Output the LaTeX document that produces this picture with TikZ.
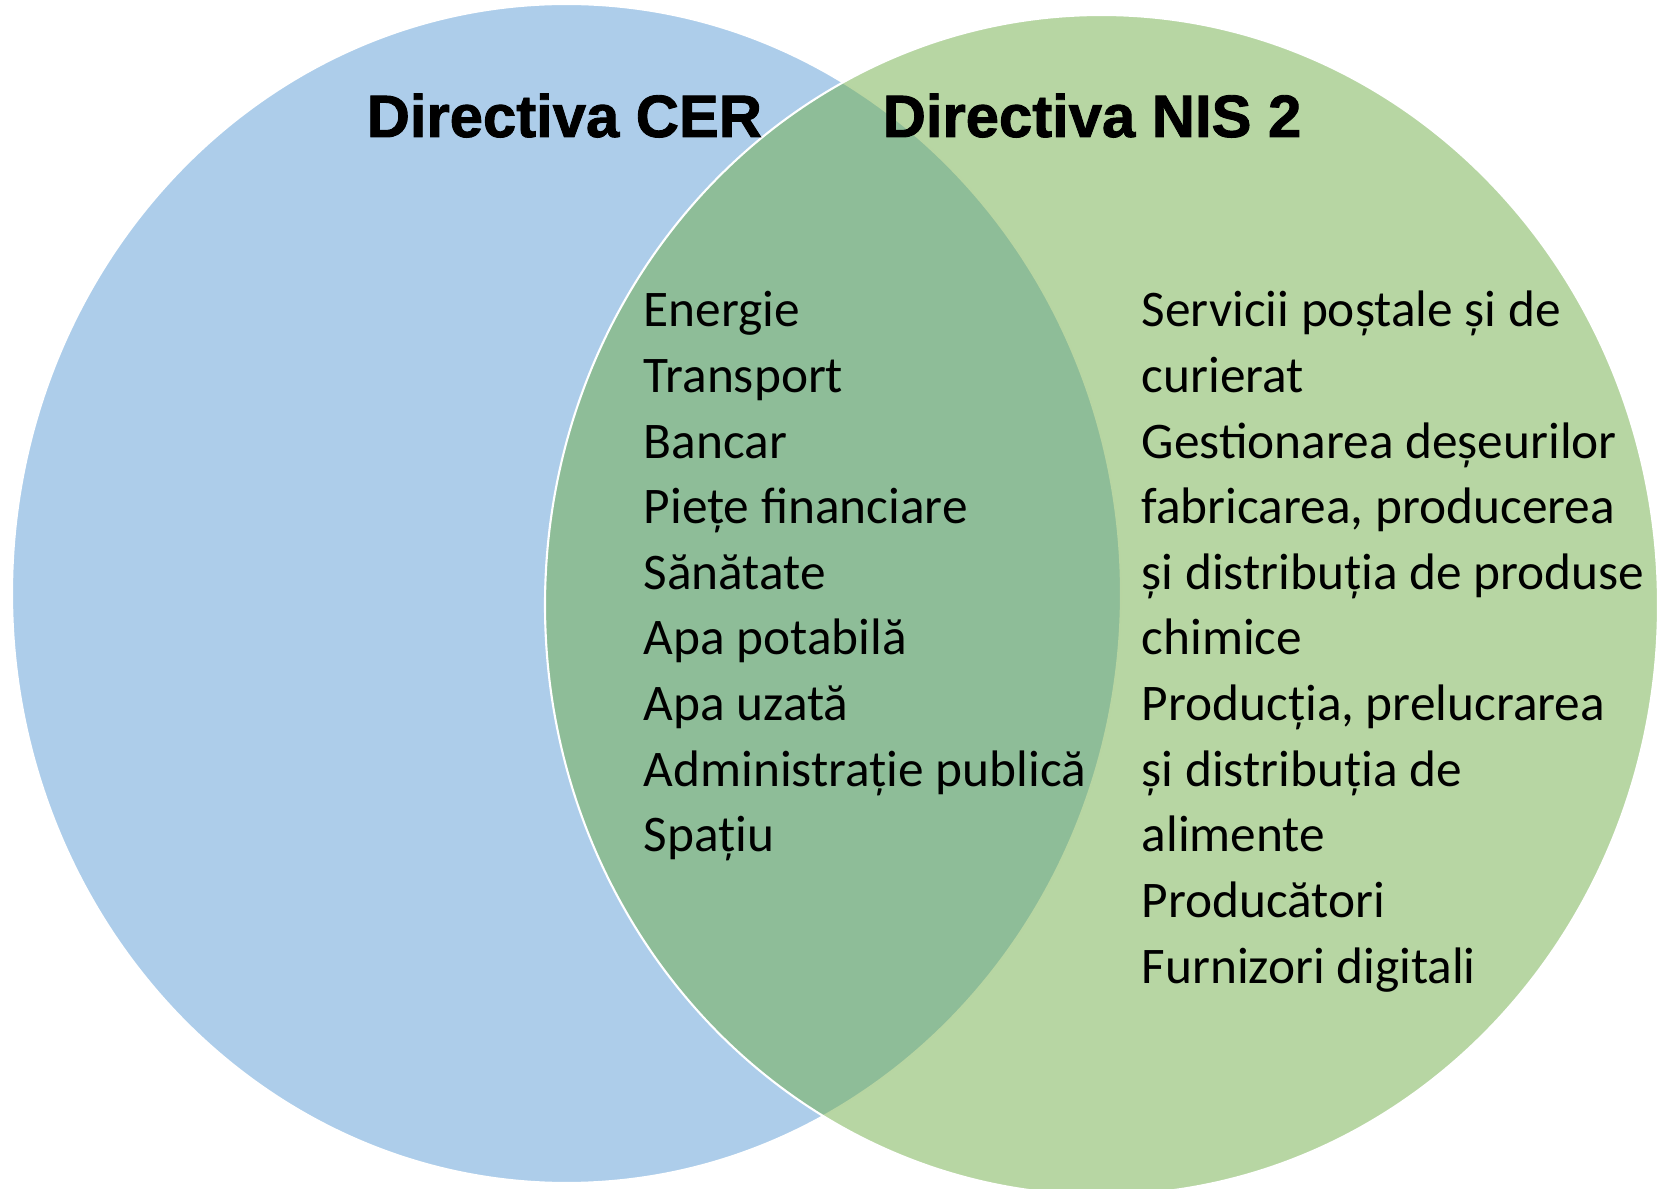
\documentclass[tikz,border=0pt]{standalone}
\usepackage{fontspec}
\setmainfont{Carlito}
\newfontfamily\titlefont[BoldFeatures={FakeBold=1.5}]{Liberation Sans}
\usepackage{tikz}

\definecolor{cerblue}{RGB}{91,155,213}
\definecolor{nisgreen}{RGB}{112,173,71}

\tikzset{
  set/.style={draw=white, line width=0.6pt, fill opacity=0.5},
  title/.style={anchor=base west, inner sep=0pt, font=\titlefont\fontsize{17}{20}\selectfont\bfseries},
  item/.style={anchor=base west, inner sep=0pt, font=\fontsize{14.6}{18}\selectfont}
}

\begin{document}
\begin{tikzpicture}[x=0.01cm, y=-0.01cm]
      \useasboundingbox (0,0) rectangle (1661,1189);

      % the two sets
      \path[set, fill=cerblue] (566.5,593.5) ellipse [x radius=554.5, y radius=589.5];
      \path[set, fill=nisgreen] (1101.5,605) ellipse [x radius=556.5, y radius=590];

      \node[title] (cer) at (366,137) {Directiva CER};
      \node[title] (nis) at (882,137) {Directiva NIS 2};

      % common sectors
      \foreach \txt [count=\i from 0] in {Energie, Transport, Bancar,
          Piețe financiare, Sănătate, Apa potabilă, Apa uzată,
          Administrație publică, Spațiu}
        \node[item] (c\i) at (643,327+65.6*\i) {\txt};

      % NIS 2 only
      \foreach \txt [count=\i from 0] in {Servicii poștale și de, curierat,
          Gestionarea deșeurilor, {fabricarea, producerea},
          și distribuția de produse, chimice, {Producția, prelucrarea},
          și distribuția de, alimente, Producători, Furnizori digitali}
        \node[item] (n\i) at (1141,327+65.6*\i) {\txt};
\end{tikzpicture}
\end{document}
